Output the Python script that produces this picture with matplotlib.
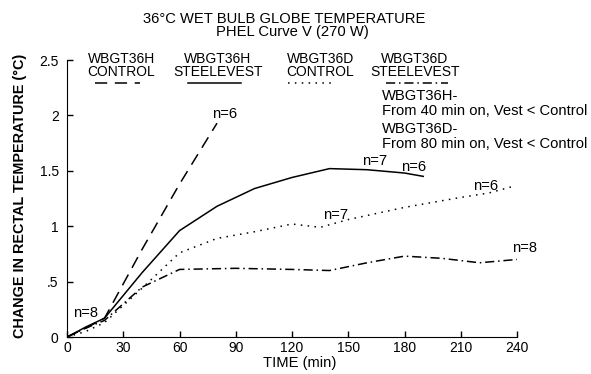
import matplotlib
matplotlib.use("Agg")
import matplotlib.pyplot as plt

plt.rcParams['font.family'] = ['Liberation Sans', 'DejaVu Sans']

# WBGT36H control (dashed)
h_ctrl_t = [0, 10, 20, 40, 60, 80]
h_ctrl_v = [0, 0.08, 0.17, 0.79, 1.38, 1.93]
# WBGT36H steelevest (solid)
h_vest_t = [0, 10, 20, 40, 60, 80, 100, 120, 140, 160, 180, 190]
h_vest_v = [0, 0.09, 0.17, 0.58, 0.96, 1.18, 1.34, 1.44, 1.52, 1.51, 1.48, 1.45]
# WBGT36D control (dotted)
d_ctrl_t = [0, 10, 20, 40, 60, 80, 100, 120, 135, 150, 180, 210, 225, 238]
d_ctrl_v = [0, 0.05, 0.13, 0.44, 0.76, 0.89, 0.95, 1.02, 0.99, 1.06, 1.17, 1.26, 1.30, 1.36]
# WBGT36D steelevest (dash-dot)
d_vest_t = [0, 10, 20, 40, 60, 90, 120, 140, 160, 180, 200, 220, 240]
d_vest_v = [0, 0.08, 0.15, 0.45, 0.61, 0.62, 0.61, 0.60, 0.67, 0.73, 0.71, 0.67, 0.70]

legend_top = ["WBGT36H", "WBGT36H", "WBGT36D", "WBGT36D"]
legend_bot = ["CONTROL", "STEELEVEST", "CONTROL", "STEELEVEST"]
legend_styles = [(0, (8, 5)), '-', (0, (1, 3.5)), (0, (6, 2.5, 1, 2.5))]

notes = ["WBGT36H-", "From 40 min on, Vest < Control", "WBGT36D-", "From 80 min on, Vest < Control"]

n_labels = [("n=6", 84, 2.01), ("n=8", 10, 0.22), ("n=7", 164, 1.59), ("n=6", 185, 1.53),
            ("n=6", 223, 1.36), ("n=7", 143.5, 1.10), ("n=8", 244, 0.80)]

fs = 10.6
fig = plt.figure(figsize=(5.91, 3.74), dpi=100)
ax = fig.add_axes([0.1134, 0.0989, 0.7614, 0.7406])

lw = 1.1
ax.plot(h_ctrl_t, h_ctrl_v, color='black', lw=lw, linestyle=legend_styles[0])
ax.plot(h_vest_t, h_vest_v, color='black', lw=lw, linestyle=legend_styles[1])
ax.plot(d_ctrl_t, d_ctrl_v, color='black', lw=lw, linestyle=legend_styles[2])
ax.plot(d_vest_t, d_vest_v, color='black', lw=lw, linestyle=legend_styles[3])

# legend drawn as text with sample lines underneath
leg_x = [29, 80.5, 135, 185.6]
sample_x = [(15, 39), (64.5, 93), (118, 143), (170, 203)]
for top, bot, st, xc, (x0, x1) in zip(legend_top, legend_bot, legend_styles, leg_x, sample_x):
    ax.text(xc, 2.475, top, ha='center', va='baseline', fontsize=10)
    ax.text(xc, 2.360, bot, ha='center', va='baseline', fontsize=10)
    ax.plot([x0, x1], [2.29, 2.29], color='black', lw=lw, linestyle=st, clip_on=False)

for line, v in zip(notes, [2.139, 2.004, 1.841, 1.706]):
    ax.text(168, v, line, ha='left', va='baseline', fontsize=fs)

for lab, t, v in n_labels:
    ax.text(t, v, lab, ha='center', va='center', fontsize=fs)

ax.set_xlim(0, 240)
ax.set_ylim(0, 2.5)
ax.set_xticks(range(0, 241, 30))
ax.set_yticks([0, 0.5, 1, 1.5, 2, 2.5])
ax.set_yticklabels(["0", ".5", "1", "1.5", "2", "2.5"])
ax.tick_params(direction='in', labelsize=10, length=4, width=1)
ax.tick_params(axis='y', pad=6)
ax.tick_params(axis='x', pad=3)
ax.spines['top'].set_visible(False)
ax.spines['right'].set_visible(False)

fig.text(300 / 591, 1 - 367 / 374, "TIME (min)", ha='center', va='baseline', fontsize=fs)
fig.text(20 / 591, 1 - 196 / 374, "CHANGE IN RECTAL TEMPERATURE (°C)", rotation=90,
         ha='center', va='center', fontsize=10.4, fontweight='bold')

fig.text(284 / 591, 1 - 23 / 374, "36°C WET BULB GLOBE TEMPERATURE", ha='center', va='baseline', fontsize=fs)
fig.text(292 / 591, 1 - 36 / 374, "PHEL Curve V (270 W)", ha='center', va='baseline', fontsize=fs)

fig.savefig("out.png", dpi=100)
